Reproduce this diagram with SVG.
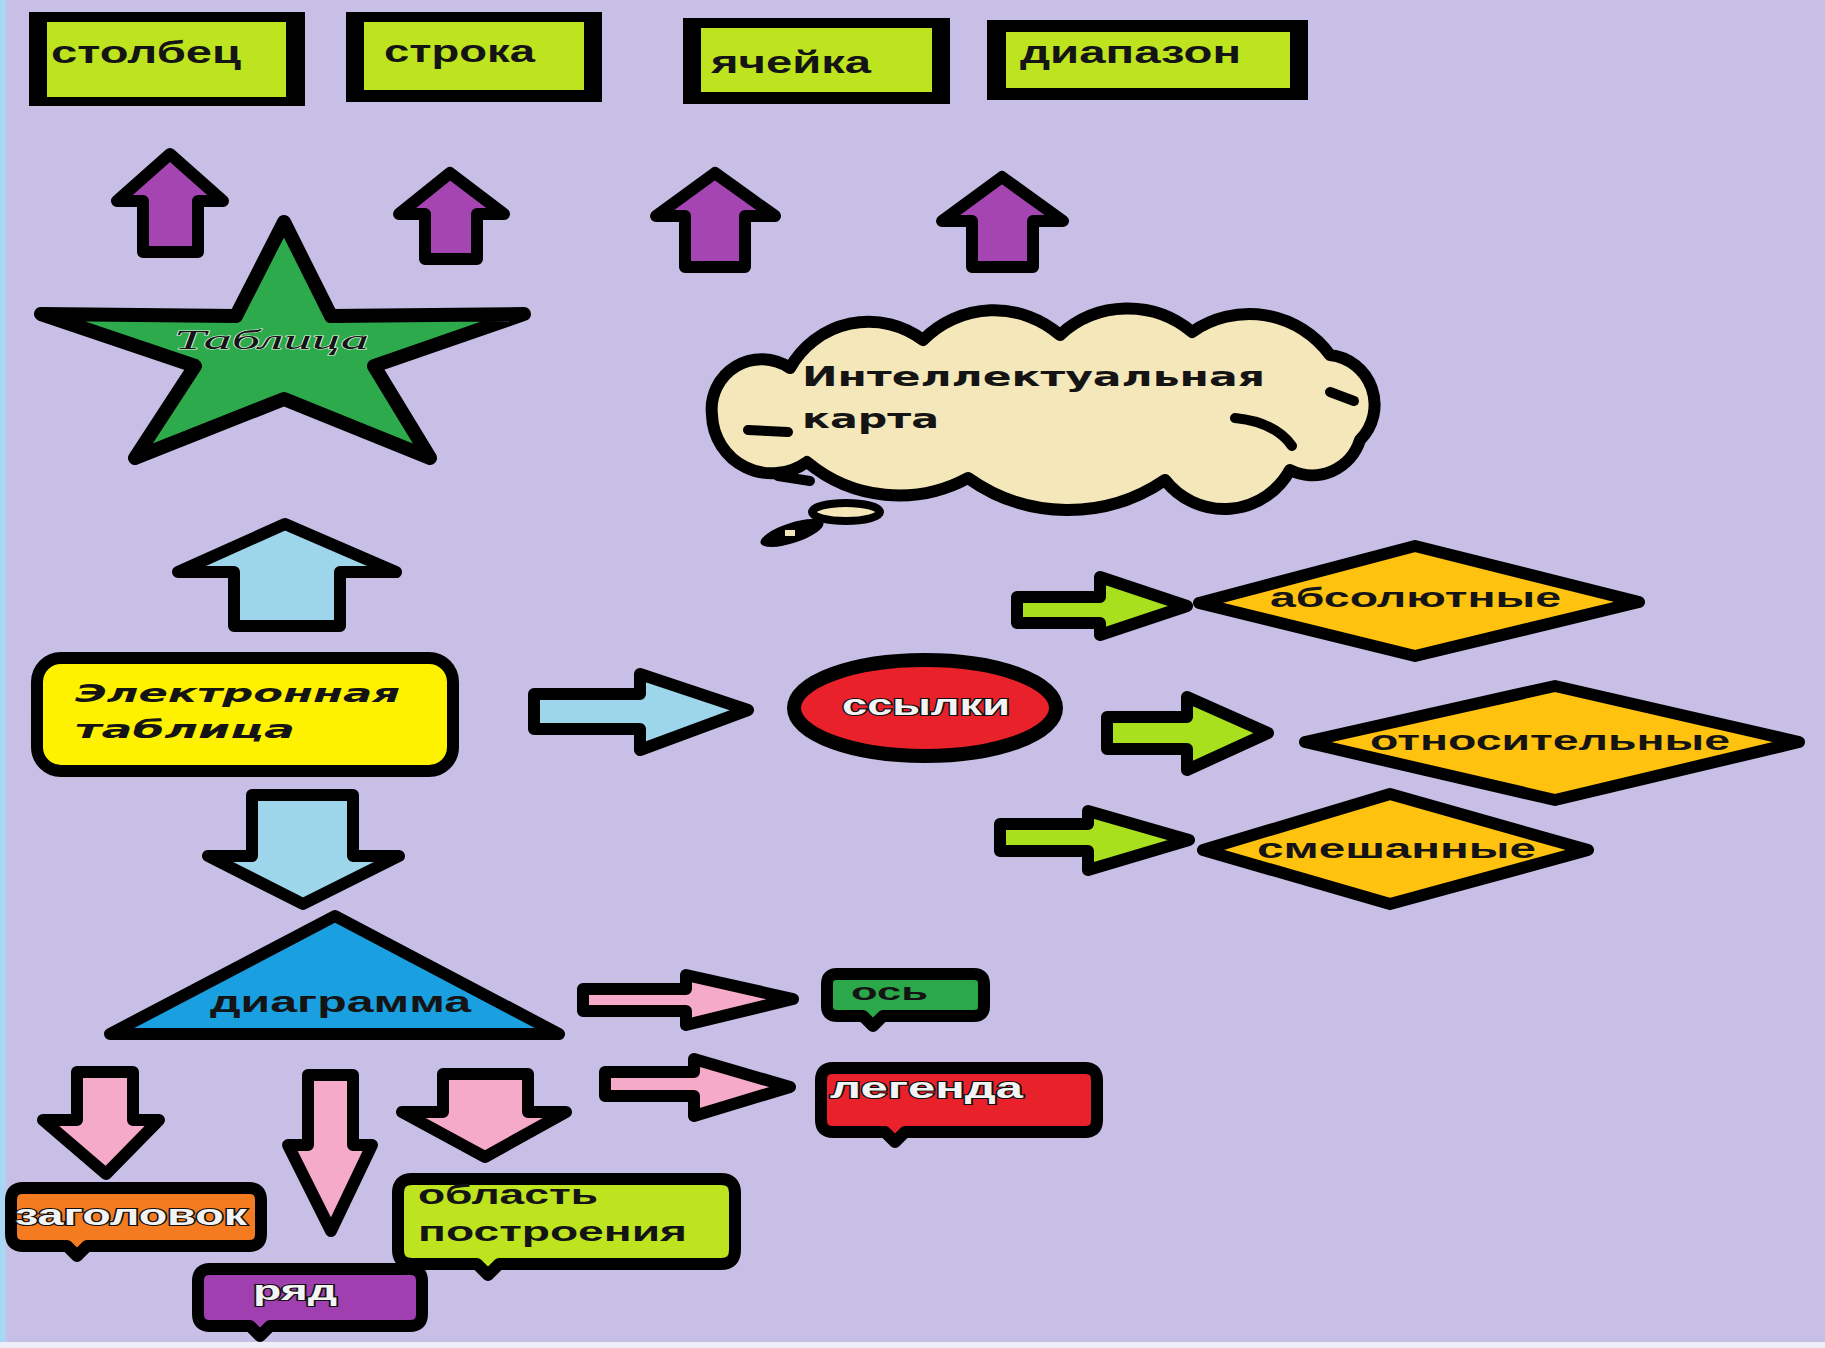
<svg xmlns="http://www.w3.org/2000/svg" width="1825" height="1348" viewBox="0 0 1825 1348">
<style>
.o{stroke:#000;stroke-width:12;stroke-linejoin:round}
.t{font-family:"Liberation Sans",Arial,sans-serif;font-weight:bold;fill:#141414}
.d{font-family:"DejaVu Sans","Liberation Sans",sans-serif;font-weight:bold;fill:#141414}
.w{fill:#f4f4f4;stroke:#111;stroke-width:2.2;paint-order:stroke}
.lime{fill:#BEE41F}
.pur{fill:#A445B2}
.lb{fill:#9DD6EA}
.gr{fill:#A8E01E}
.pk{fill:#F6AACA}
.dia{fill:#FFC20E}
</style>
<rect width="1825" height="1348" fill="#C7BFE5"/>
<rect width="6" height="1348" fill="#A9D6F5"/>
<rect y="1342" width="1825" height="6" fill="#EDEEF7"/>

<g id="connectors">
<polygon class="o pur" points="170,154 223,201 198,201 198,252 143,252 143,201 117,201"/>
<polygon class="o pur" points="450,173 504,214 477,214 477,259 425,259 425,214 399,214"/>
<polygon class="o pur" points="715,173 775,216 745,216 745,267 685,267 685,216 656,216"/>
<polygon class="o pur" points="1002,177 1063,221 1033,221 1033,267 972,267 972,221 942,221"/>
<polygon class="o lb" points="285,524 396,572 340,572 340,626 234,626 234,572 178,572"/>
<polygon class="o lb" points="252,795 353,795 353,856 399,856 303,904 208,856 252,856"/>
<polygon class="o lb" points="534,694 640,694 640,674 748,710 640,750 640,729 534,729"/>
<polygon class="o gr" points="1017,597 1100,597 1100,577 1187,606 1100,635 1100,623 1017,623"/>
<polygon class="o gr" points="1107,717 1187,717 1187,697 1268,733 1187,770 1187,749 1107,749"/>
<polygon class="o gr" points="1000,824 1088,824 1088,811 1189,840 1088,870 1088,851 1000,851"/>
<polygon class="o pk" points="583,989 686,989 686,975 793,999 686,1025 686,1011 583,1011"/>
<polygon class="o pk" points="605,1072 694,1072 694,1059 790,1087 694,1116 694,1096 605,1096"/>
<polygon class="o pk" points="77,1072 133,1072 133,1120 159,1120 106,1174 43,1120 77,1120"/>
<polygon class="o pk" points="308,1075 353,1075 353,1145 372,1145 331,1231 288,1145 308,1145"/>
<polygon class="o pk" points="443,1074 528,1074 528,1112 566,1112 485,1157 402,1112 443,1112"/>
</g>

<g id="n-stolbec">
<rect x="29" y="12" width="276" height="94" fill="#000"/>
<rect class="lime" x="47" y="22" width="239" height="75"/>
<text class="t" x="51" y="63" font-size="32" textLength="190" lengthAdjust="spacingAndGlyphs">столбец</text>
</g>
<g id="n-stroka">
<rect x="346" y="12" width="256" height="90" fill="#000"/>
<rect class="lime" x="364" y="22" width="220" height="68"/>
<text class="t" x="384" y="62" font-size="32" textLength="151" lengthAdjust="spacingAndGlyphs">строка</text>
</g>
<g id="n-yacheika">
<rect x="683" y="18" width="267" height="86" fill="#000"/>
<rect class="lime" x="701" y="28" width="231" height="64"/>
<text class="t" x="711" y="73" font-size="32" textLength="160" lengthAdjust="spacingAndGlyphs">ячейка</text>
</g>
<g id="n-diapazon">
<rect x="987" y="20" width="321" height="80" fill="#000"/>
<rect class="lime" x="1006" y="32" width="284" height="56"/>
<text class="t" x="1020" y="63" font-size="32" textLength="221" lengthAdjust="spacingAndGlyphs">диапазон</text>
</g>

<g id="n-tablica">
<polygon points="284,222 331,316 524,314 374,366 430,458 284,399 135,458 195,366 41,314 236,316" fill="#2DAA4B" stroke="#000" stroke-width="14" stroke-linejoin="round"/>
<text x="174" y="349" font-family="'Liberation Serif',serif" font-style="italic" font-size="28" fill="#141414" stroke="#e8f5e8" stroke-width="1" paint-order="stroke" textLength="195" lengthAdjust="spacingAndGlyphs">Таблица</text>
</g>

<g id="n-karta">
<path d="M712,415 A50,50 0 0 1 790,368 A90,90 0 0 1 923,340 A100,100 0 0 1 1060,335 A100,100 0 0 1 1192,332 A100,100 0 0 1 1330,355 A50,50 0 0 1 1360,440 A50,50 0 0 1 1290,470 A75,75 0 0 1 1165,480 A172,172 0 0 1 968,478 A144,144 0 0 1 807,462 A60,60 0 0 1 712,415 Z" fill="#F4E7B9" stroke="#000" stroke-width="12" stroke-linejoin="round"/>
<g fill="none" stroke="#000" stroke-width="10" stroke-linecap="round">
<path d="M1330,392 L1354,401"/>
<path d="M1235,418 Q1275,422 1292,446"/>
<path d="M748,430 L788,432"/>
<path d="M778,476 L810,481"/>
</g>
<ellipse cx="846" cy="512" rx="34" ry="9" fill="#F4E7B9" stroke="#000" stroke-width="8"/>
<ellipse cx="792" cy="533" rx="33" ry="10" transform="rotate(-18 792 533)" fill="#000"/>
<rect x="785" y="530" width="10" height="6" fill="#F4E7B9"/>
<text class="d" x="802" y="386" font-size="26" textLength="463" lengthAdjust="spacingAndGlyphs">Интеллектуальная</text>
<text class="d" x="802" y="428" font-size="26" textLength="137" lengthAdjust="spacingAndGlyphs">карта</text>
</g>

<g id="n-elektronnaya">
<rect x="37" y="658" width="416" height="113" rx="24" fill="#FFF200" stroke="#000" stroke-width="12"/>
<text class="d" x="75" y="702" font-size="24" font-style="italic" fill="#2a2a2a" textLength="325" lengthAdjust="spacingAndGlyphs">Электронная</text>
<text class="d" x="75" y="738" font-size="24" font-style="italic" fill="#2a2a2a" textLength="220" lengthAdjust="spacingAndGlyphs">таблица</text>
</g>

<g id="n-ssylki">
<ellipse cx="925" cy="708" rx="131" ry="48" fill="#E8212A" stroke="#000" stroke-width="14"/>
<text class="t w" x="842" y="715" font-size="29" textLength="168" lengthAdjust="spacingAndGlyphs">ссылки</text>
</g>

<g id="n-absolyutnye">
<polygon class="o dia" points="1199,603 1415,546 1639,602 1415,656"/>
<text class="t" x="1270" y="607" font-size="27" fill="#1a1a1a" textLength="291" lengthAdjust="spacingAndGlyphs">абсолютные</text>
</g>
<g id="n-otnositelnye">
<polygon class="o dia" points="1305,742 1555,686 1799,742 1555,800"/>
<text class="t" x="1370" y="750" font-size="27" fill="#1a1a1a" textLength="360" lengthAdjust="spacingAndGlyphs">относительные</text>
</g>
<g id="n-smeshannye">
<polygon class="o dia" points="1203,850 1390,794 1588,850 1390,904"/>
<text class="t" x="1257" y="858" font-size="27" fill="#1a1a1a" textLength="279" lengthAdjust="spacingAndGlyphs">смешанные</text>
</g>

<g id="n-diagramma">
<polygon class="o" points="335,916 559,1034 110,1034" fill="#1A9FE0"/>
<text class="t" x="210" y="1012" font-size="29" fill="#333" textLength="261" lengthAdjust="spacingAndGlyphs">диаграмма</text>
</g>

<g id="n-os">
<path class="o" d="M837,974 H974 Q984,974 984,984 V1006 Q984,1016 974,1016 H883 L873,1026 L863,1016 H837 Q827,1016 827,1006 V984 Q827,974 837,974 Z" fill="#2AA84A"/>
<text class="t" x="851" y="1000" font-size="24" textLength="77" lengthAdjust="spacingAndGlyphs">ось</text>
</g>
<g id="n-legenda">
<path class="o" d="M833,1068 H1085 Q1097,1068 1097,1080 V1120 Q1097,1132 1085,1132 H905 L895,1142 L885,1132 H833 Q821,1132 821,1120 V1080 Q821,1068 833,1068 Z" fill="#E8212A"/>
<text class="t w" x="830" y="1098" font-size="29" textLength="193" lengthAdjust="spacingAndGlyphs">легенда</text>
</g>
<g id="n-zagolovok">
<path class="o" d="M23,1188 H249 Q261,1188 261,1200 V1234 Q261,1246 249,1246 H87 L77,1256 L67,1246 H23 Q11,1246 11,1234 V1200 Q11,1188 23,1188 Z" fill="#F47B20"/>
<text class="t w" x="15" y="1225" font-size="29" textLength="232" lengthAdjust="spacingAndGlyphs">заголовок</text>
</g>
<g id="n-ryad">
<path class="o" d="M210,1269 H410 Q422,1269 422,1281 V1314 Q422,1326 410,1326 H270 L260,1336 L250,1326 H210 Q198,1326 198,1314 V1281 Q198,1269 210,1269 Z" fill="#A040B0"/>
<text class="t w" x="253" y="1300" font-size="27" textLength="84" lengthAdjust="spacingAndGlyphs">ряд</text>
</g>
<g id="n-oblast">
<path class="o" d="M412,1179 H721 Q735,1179 735,1193 V1250 Q735,1264 721,1264 H499 L488,1275 L477,1264 H412 Q398,1264 398,1250 V1193 Q398,1179 412,1179 Z" fill="#BEE41F"/>
<text class="t" x="418" y="1204" font-size="27" textLength="180" lengthAdjust="spacingAndGlyphs">область</text>
<text class="t" x="418" y="1241" font-size="27" textLength="269" lengthAdjust="spacingAndGlyphs">построения</text>
</g>
</svg>
